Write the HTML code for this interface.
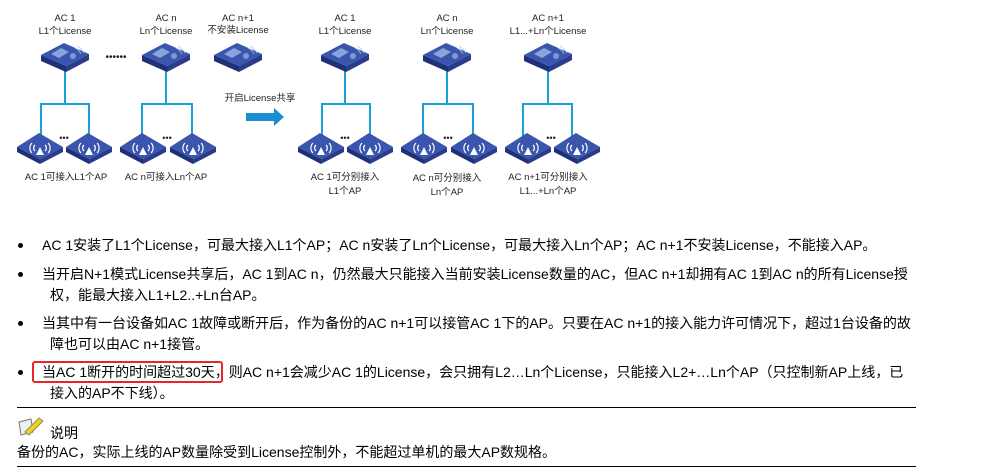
<!DOCTYPE html>
<html><head><meta charset="utf-8"><style>
body{margin:0;background:#fff;width:987px;height:472px;overflow:hidden;position:relative;font-family:"Liberation Sans","Noto Sans CJK SC",sans-serif;color:#000}
.t{position:absolute;font-size:14px;white-space:nowrap;line-height:16px}
.b{position:absolute;width:5px;height:5px;border-radius:50%;background:#000}
svg text{font-family:"Liberation Sans","Noto Sans CJK SC",sans-serif;font-size:9.5px;fill:#222;text-anchor:middle}
</style></head><body>
<svg width="987" height="210" style="position:absolute;left:0;top:0">
<defs>
<g id="ac">
<polygon points="-24,-2 -24,4 1,15 1,9" fill="#1f2f78"/>
<polygon points="1,9 1,15 24,3 24,-3" fill="#2b3c8c"/>
<polygon points="-24,-2 -1,-14 24,-3 1,9" fill="#3a55ad"/>
<polygon points="-14,-3 -4,-9 4,-5 -6,1" fill="#9fb8e6" opacity=".8"/>
<circle cx="8" cy="-1" r="3" fill="#7e98d4"/>
<path d="M10,-9 q4,2 6,6 M12,-11 q5,3 7,7" stroke="#b7c9ee" fill="none" stroke-width=".8"/>
</g>
<g id="ap">
<polygon points="-23,0 -23,5 0,17 0,12" fill="#1f2f78"/>
<polygon points="0,12 0,17 23,5 23,0" fill="#2b3c8c"/>
<polygon points="-23,0 -1,-14 23,0 0,12" fill="#3a55ad"/>
<path d="M-5,-2 a4,4 0 0,0 0,6 M5,-2 a4,4 0 0,1 0,6 M-8,-4 a7,7 0 0,0 0,10 M8,-4 a7,7 0 0,1 0,10" stroke="#fff" fill="none" stroke-width="1.2"/>
<polygon points="0,0 -4,8 4,8" fill="#fff"/>
</g>
</defs>
<g stroke="#1aa0d8" stroke-width="2" fill="none">
<path d="M65,70V104M41,140V104H89V140"/>
<path d="M166,70V104M142,140V104H192V140"/>
<path d="M345,70V104M322,140V104H370V140"/>
<path d="M447,70V104M423,140V104H473V140"/>
<path d="M548,70V104M523,140V104H572V140"/>
</g>
<use href="#ac" x="65" y="57"/><use href="#ac" x="166" y="57"/><use href="#ac" x="238" y="57"/>
<use href="#ac" x="345" y="57"/><use href="#ac" x="447" y="57"/><use href="#ac" x="548" y="57"/>
<use href="#ap" x="40" y="147"/><use href="#ap" x="89" y="147"/>
<use href="#ap" x="143" y="147"/><use href="#ap" x="193" y="147"/>
<use href="#ap" x="321" y="147"/><use href="#ap" x="370" y="147"/>
<use href="#ap" x="424" y="147"/><use href="#ap" x="474" y="147"/>
<use href="#ap" x="528" y="147"/><use href="#ap" x="577" y="147"/>
<text x="65" y="21">AC 1</text><text x="65" y="34">L1个License</text>
<text x="166" y="21">AC n</text><text x="166" y="34">Ln个License</text>
<text x="238" y="21">AC n+1</text><text x="238" y="33">不安装License</text>
<text x="345" y="21">AC 1</text><text x="345" y="34">L1个License</text>
<text x="447" y="21">AC n</text><text x="447" y="34">Ln个License</text>
<text x="548" y="21">AC n+1</text><text x="548" y="34">L1...+Ln个License</text>
<text x="66" y="180">AC 1可接入L1个AP</text>
<text x="166" y="180">AC n可接入Ln个AP</text>
<text x="345" y="180">AC 1可分别接入</text><text x="345" y="194">L1个AP</text>
<text x="447" y="181">AC n可分别接入</text><text x="447" y="195">Ln个AP</text>
<text x="548" y="180">AC n+1可分别接入</text><text x="548" y="194">L1...+Ln个AP</text>
<text x="260" y="101">开启License共享</text>
<text x="116" y="60" style="font-size:10px">••••••</text>
<text x="64" y="141" style="font-size:9px">•••</text><text x="167" y="141" style="font-size:9px">•••</text>
<text x="345" y="141" style="font-size:9px">•••</text><text x="448" y="141" style="font-size:9px">•••</text><text x="551" y="141" style="font-size:9px">•••</text>
<polygon points="246,113 274,113 274,108 284,117 274,126 274,121 246,121" fill="#1a8fd0"/>
</svg>
<div class="b" style="left:18px;top:243px"></div>
<div class="t" style="left:42px;top:237px">AC 1安装了L1个License，可最大接入L1个AP；AC n安装了Ln个License，可最大接入Ln个AP；AC n+1不安装License，不能接入AP。</div>
<div class="b" style="left:18px;top:272px"></div>
<div class="t" style="left:42px;top:266px">当开启N+1模式License共享后，AC 1到AC n，仍然最大只能接入当前安装License数量的AC，但AC n+1却拥有AC 1到AC n的所有License授</div>
<div class="t" style="left:50px;top:287px">权，能最大接入L1+L2..+Ln台AP。</div>
<div class="b" style="left:18px;top:321px"></div>
<div class="t" style="left:42px;top:315px">当其中有一台设备如AC 1故障或断开后，作为备份的AC n+1可以接管AC 1下的AP。只要在AC n+1的接入能力许可情况下，超过1台设备的故</div>
<div class="t" style="left:50px;top:336px">障也可以由AC n+1接管。</div>
<div class="b" style="left:18px;top:370px"></div>
<div style="position:absolute;left:32px;top:361px;width:187px;height:18px;border:2px solid #e8262a;border-radius:3px"></div>
<div class="t" style="left:42px;top:364px">当AC 1断开的时间超过30天，则AC n+1会减少AC 1的License，会只拥有L2…Ln个License，只能接入L2+…Ln个AP（只控制新AP上线，已</div>
<div class="t" style="left:50px;top:385px">接入的AP不下线）。</div>
<div style="position:absolute;left:17px;top:407px;width:899px;height:1px;background:#000"></div>
<svg width="30" height="22" style="position:absolute;left:17px;top:416px">
<polygon points="2,6 14,3 16,16 4,19" fill="#eee" stroke="#777"/>
<path d="M8,16 L22,2 L26,5 L12,19Z" fill="#f2d21a" stroke="#886"/>
</svg>
<div class="t" style="left:50px;top:425px">说明</div>
<div class="t" style="left:17px;top:444px">备份的AC，实际上线的AP数量除受到License控制外，不能超过单机的最大AP数规格。</div>
<div style="position:absolute;left:17px;top:466px;width:899px;height:1px;background:#000"></div>
</body></html>
